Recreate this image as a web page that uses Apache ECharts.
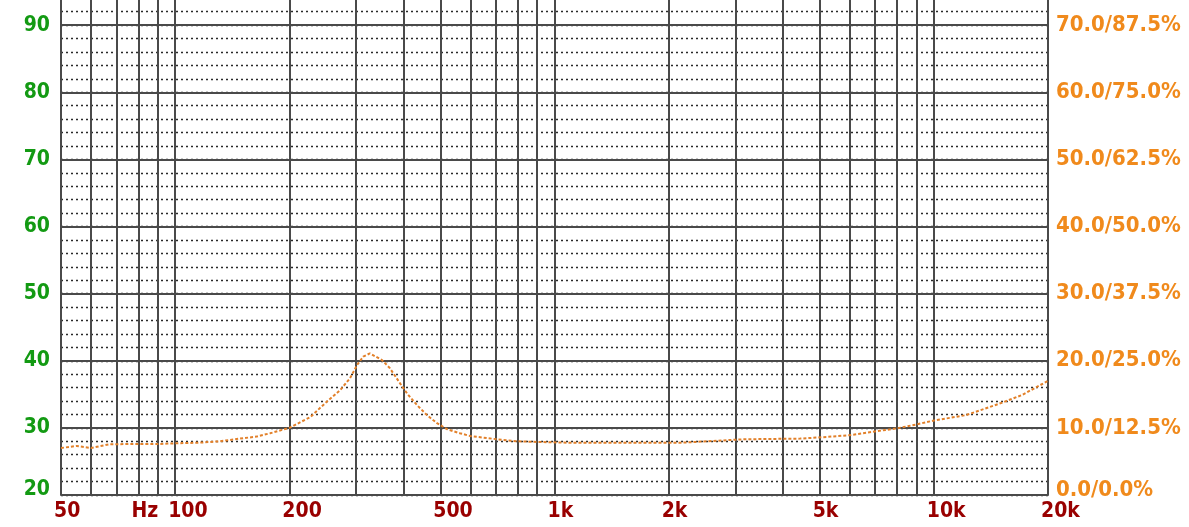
<!DOCTYPE html>
<html><head><meta charset="utf-8">
<script src="https://cdn.jsdelivr.net/npm/echarts@6/dist/echarts.min.js"></script>
<style>html,body{margin:0;padding:0;background:#fff;overflow:hidden;width:1189px;height:527px}
#c{position:absolute;left:0;top:-42px;width:1189px;height:569px}</style>
</head><body><div id="c"></div>
<script>
// Frequency response (Hz) and level (dB)
const freqs  = [50, 55, 60, 67, 77, 90, 101, 116, 131, 148, 164, 178, 200, 227, 251, 272, 289, 302, 313, 326, 351, 368, 392, 409, 434, 461, 490, 521, 563, 599, 705, 797, 899, 1079, 1611, 2182, 2524, 3141, 4441, 5071, 5980, 7041, 7949, 8978, 10016, 12162, 15041, 17085, 20000];
const levels = [27.0, 27.3, 27.0, 27.55, 27.6, 27.6, 27.7, 27.8, 28.0, 28.4, 28.7, 29.2, 30.0, 31.6, 33.9, 35.6, 37.4, 39.4, 40.6, 41.1, 40.1, 38.9, 36.6, 35.1, 33.4, 31.9, 30.7, 29.8, 29.2, 28.8, 28.3, 28.0, 27.9, 27.8, 27.8, 27.8, 28.0, 28.3, 28.4, 28.6, 28.9, 29.5, 29.9, 30.5, 31.1, 31.9, 33.7, 34.9, 37.0];

// Vertical grid lines (Hz)
const gridFreqs = [50, 60, 70, 80, 90, 100, 200, 300, 400, 500, 600, 700, 800, 900, 1000, 2000, 3000, 4000, 5000, 6000, 7000, 8000, 9000, 10000, 20000];
// Bottom tick labels
const xTickValues = [50, 80, 100, 200, 500, 1000, 2000, 5000, 10000, 20000];
const xTickLabels = ['50', 'Hz', '100', '200', '500', '1k', '2k', '5k', '10k', '20k'];
// Left / right tick labels
const leftTickValues = [20, 30, 40, 50, 60, 70, 80, 90];
const rightTickLabels = ['0.0/0.0%', '10.0/12.5%', '20.0/25.0%', '30.0/37.5%', '40.0/50.0%', '50.0/62.5%', '60.0/75.0%', '70.0/87.5%'];

const FONT = '"DejaVu Sans Condensed", "DejaVu Sans", sans-serif';
const chart = echarts.init(document.getElementById('c'), null, {renderer: 'canvas'});

function yLabel(v, list) {
  const i = leftTickValues.findIndex(t => Math.abs(t - v) < 1e-6);
  if (i < 0) return '';
  const t = list ? list[i] : String(leftTickValues[i]);
  return i === 0 ? '{m|' + t + '}' : t;
}

chart.setOption({
  animation: false,
  backgroundColor: '#fff',
  grid: {left: 61, right: 141, top: 0, bottom: 32, containLabel: false},
  xAxis: {
    type: 'log', logBase: 10, min: 50, max: 20000,
    axisLine: {show: true, lineStyle: {color: '#4a4a4a', width: 2}},
    axisTick: {show: false},
    splitLine: {show: false},
    minorSplitLine: {show: false},
    axisLabel: {
      customValues: xTickValues,
      formatter: function (v) {
        const i = xTickValues.findIndex(x => Math.abs(x - v) < 1e-6 * x);
        return i >= 0 ? xTickLabels[i] : '';
      },
      color: '#990000', fontFamily: FONT, fontWeight: 'bold', fontSize: 21,
      align: 'left', padding: [0, 0, 0, -7], margin: 6
    }
  },
  yAxis: [{
    type: 'value', min: 20, max: 100, interval: 10, position: 'left', z: 3,
    axisLine: {show: false}, axisTick: {show: false},
    splitLine: {show: true, lineStyle: {color: '#4a4a4a', width: 2}},
    axisLabel: {
      formatter: v => yLabel(v, null),
      color: '#139a13', fontFamily: FONT, fontWeight: 'bold', fontSize: 21, margin: 11,
      rich: {m: {color: '#139a13', fontFamily: FONT, fontWeight: 'bold', fontSize: 21, padding: [0, 0, 10, 0]}}
    }
  }, {
    type: 'value', min: 20, max: 100, interval: 2, position: 'right', z: 1,
    axisLine: {show: false}, axisTick: {show: false},
    splitLine: {show: true, lineStyle: {color: '#2a2a2a', width: 1.4, type: [2, 3]}},
    axisLabel: {
      formatter: v => yLabel(v, rightTickLabels),
      color: '#f08a1c', fontFamily: FONT, fontWeight: 'bold', fontSize: 22, margin: 8,
      rich: {m: {color: '#f08a1c', fontFamily: FONT, fontWeight: 'bold', fontSize: 22, padding: [0, 0, 10, 0]}}
    }
  }],
  series: [{
    type: 'line',
    data: freqs.map((f, i) => [f, levels[i]]),
    showSymbol: false, symbol: 'none', smooth: false,
    lineStyle: {color: '#e2802a', width: 2, type: [3, 2]},
    z: 5,
    markLine: {
      silent: true, symbol: ['none', 'none'], animation: false,
      label: {show: false},
      lineStyle: {color: '#4a4a4a', width: 2, type: 'solid'},
      data: gridFreqs.map(f => ({xAxis: f}))
    }
  }]
});
</script></body></html>
